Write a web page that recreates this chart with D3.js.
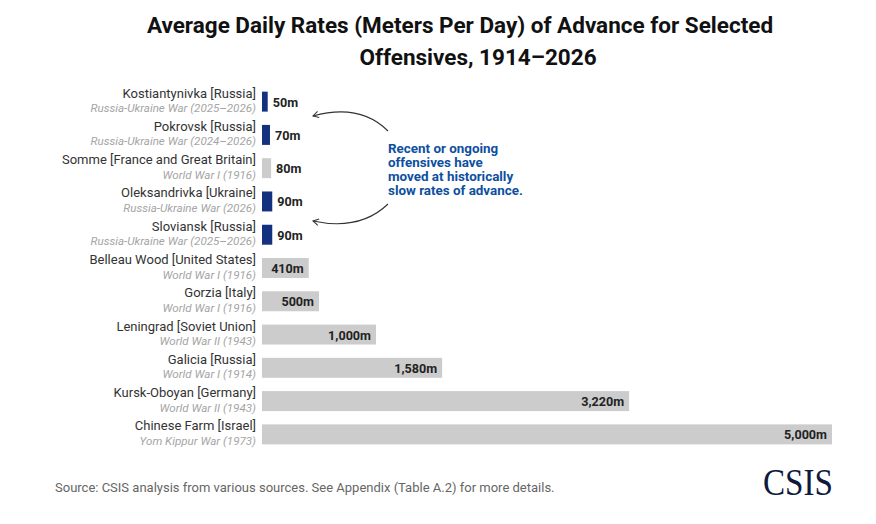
<!DOCTYPE html>
<html>
<head>
<meta charset="utf-8">
<script src="https://cdn.jsdelivr.net/npm/d3@7"></script>
<style>
  body { margin: 0; background: #fff; }
  svg { display: block; font-family: Roboto, "Liberation Sans", sans-serif; }
</style>
</head>
<body>
<div id="chart"></div>
<script>
// offensives, top to bottom
var names = [
  "Kostiantynivka [Russia]", "Pokrovsk [Russia]", "Somme [France and Great Britain]",
  "Oleksandrivka [Ukraine]", "Sloviansk [Russia]", "Belleau Wood [United States]",
  "Gorzia [Italy]", "Leningrad [Soviet Union]", "Galicia [Russia]",
  "Kursk-Oboyan [Germany]", "Chinese Farm [Israel]"
];
var wars = [
  "Russia-Ukraine War (2025–2026)", "Russia-Ukraine War (2024–2026)", "World War I (1916)",
  "Russia-Ukraine War (2026)", "Russia-Ukraine War (2025–2026)", "World War I (1916)",
  "World War I (1916)", "World War II (1943)", "World War I (1914)",
  "World War II (1943)", "Yom Kippur War (1973)"
];
var rates = [50, 70, 80, 90, 90, 410, 500, 1000, 1580, 3220, 5000];
var recent = [true, true, false, true, true, false, false, false, false, false, false];

var width = 876, height = 524;
var svg = d3.select("#chart").append("svg")
  .attr("width", width)
  .attr("height", height);

var x = d3.scaleLinear().domain([0, 5000]).range([262, 832]);
var y = d3.scaleBand().domain(d3.range(names.length)).range([85, 451]).paddingInner(0.4).paddingOuter(0.2);

// title
svg.append("text")
  .attr("x", 460).attr("y", 33)
  .attr("text-anchor", "middle")
  .style("font-size", "22.5px").style("font-weight", "bold").style("fill", "#111")
  .text("Average Daily Rates (Meters Per Day) of Advance for Selected");
svg.append("text")
  .attr("x", 478).attr("y", 65)
  .attr("text-anchor", "middle")
  .style("font-size", "22.5px").style("font-weight", "bold").style("fill", "#111")
  .text("Offensives, 1914–2026");

var rows = svg.selectAll("g.row").data(rates).enter().append("g").attr("class", "row");

rows.append("rect")
  .attr("x", x(0))
  .attr("y", function(d, i) { return y(i); })
  .attr("width", function(d) { return x(d) - x(0); })
  .attr("height", y.bandwidth())
  .style("fill", function(d, i) { return recent[i] ? "#13317f" : "#cccccc"; });

// value labels: outside for the short bars, inside right for the rest
rows.append("text")
  .attr("x", function(d) { return d < 400 ? x(d) + 5 : x(d) - 5; })
  .attr("y", function(d, i) { return y(i) + y.bandwidth() / 2 + 5; })
  .attr("text-anchor", function(d) { return d < 400 ? "start" : "end"; })
  .style("font-size", "12.6px").style("font-weight", "bold").style("fill", "#222")
  .text(function(d) { return d3.format(",")(d) + "m"; });

rows.append("text")
  .attr("x", 256)
  .attr("y", function(d, i) { return y(i) + 6; })
  .attr("text-anchor", "end")
  .style("font-size", "13px").style("fill", "#333")
  .text(function(d, i) { return names[i]; });

rows.append("text")
  .attr("x", 256)
  .attr("y", function(d, i) { return y(i) + 20.5; })
  .attr("text-anchor", "end")
  .style("font-size", "11.6px").style("font-style", "italic").style("fill", "#a5a5a5")
  .text(function(d, i) { return wars[i]; });

// annotation
var note = ["Recent or ongoing", "offensives have", "moved at historically", "slow rates of advance."];
svg.append("text")
  .attr("x", 388).attr("y", 153)
  .style("font-size", "13.4px").style("font-weight", "bold").style("fill", "#0d4fa0")
  .selectAll("tspan").data(note).enter().append("tspan")
  .attr("x", 388)
  .attr("dy", function(d, i) { return i ? 14 : 0; })
  .text(function(d) { return d; });

svg.append("defs").append("marker")
  .attr("id", "arr").attr("viewBox", "0 0 10 10")
  .attr("refX", 9).attr("refY", 5)
  .attr("markerWidth", 8).attr("markerHeight", 8)
  .attr("markerUnits", "userSpaceOnUse")
  .attr("orient", "auto-start-reverse")
  .append("path")
  .attr("d", "M2,1 L9,5 L2,9")
  .style("fill", "none").style("stroke", "#333").style("stroke-width", 1.3);

svg.append("path")
  .attr("d", "M313,116 Q360,103 388,131")
  .style("fill", "none").style("stroke", "#333").style("stroke-width", 1.1)
  .attr("marker-start", "url(#arr)");
svg.append("path")
  .attr("d", "M313,221 Q360,231 388,204")
  .style("fill", "none").style("stroke", "#333").style("stroke-width", 1.1)
  .attr("marker-start", "url(#arr)");

// footer
svg.append("text")
  .attr("x", 55).attr("y", 492)
  .style("font-size", "13px").style("fill", "#666")
  .text("Source: CSIS analysis from various sources. See Appendix (Table A.2) for more details.");
svg.append("text")
  .attr("x", 763).attr("y", 495)
  .attr("textLength", 70).attr("lengthAdjust", "spacingAndGlyphs")
  .style("font-family", "'Liberation Serif', 'DejaVu Serif', serif")
  .style("font-size", "38px").style("fill", "#0d1a3d")
  .text("CSIS");
</script>
</body>
</html>
